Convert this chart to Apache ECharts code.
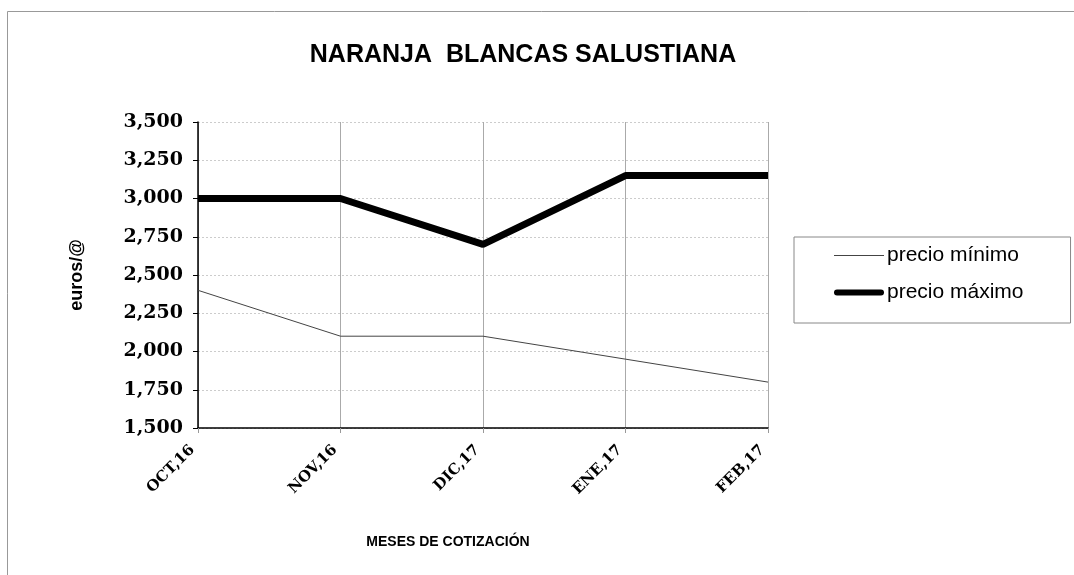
<!DOCTYPE html>
<html>
<head>
<meta charset="utf-8">
<script src="https://cdn.jsdelivr.net/npm/echarts@6/dist/echarts.min.js"></script>
<style>
  html, body { margin: 0; padding: 0; background: #fff; }
  #chart { width: 1074px; height: 575px; }
</style>
</head>
<body>
<div id="chart"></div>
<script>
// values
var months = ["OCT,16", "NOV,16", "DIC,17", "ENE,17", "FEB,17"];
var precioMinimo = [2.40, 2.10, 2.10, 1.95, 1.80];
var precioMaximo = [3.00, 3.00, 2.70, 3.15, 3.15];
var seriesNames = ["precio mínimo", "precio máximo"];

var serifBold = { fontFamily: "DejaVu Serif", fontWeight: "bold", color: "#000" };

var myChart = echarts.init(document.getElementById("chart"));

var options = {
  animation: false,
  backgroundColor: "#fff",
  title: [
    {
      text: "NARANJA  BLANCAS SALUSTIANA",
      left: 518,
      top: 38,
      textAlign: "center",
      textStyle: { fontFamily: "Liberation Sans", fontWeight: "bold", fontSize: 25, color: "#000" },
    },
    {
      text: "MESES DE COTIZACIÓN",
      left: 443,
      top: 530,
      textAlign: "center",
      textStyle: { fontFamily: "Liberation Sans", fontWeight: "bold", fontSize: 14, color: "#000" },
    },
  ],
  graphic: [
    {
      type: "rect",
      shape: { x: 7.5, y: 11.5, width: 1100, height: 600 },
      style: { fill: "none", stroke: "#999", lineWidth: 1 },
      silent: true,
    },
  ],
  legend: {
    left: 794,
    top: 237,
    orient: "vertical",
    padding: [8, 47, 20, 40],
    itemGap: 16,
    itemWidth: 50,
    itemHeight: 21,
    borderColor: "#888",
    borderWidth: 1,
    data: [
      { name: seriesNames[0], icon: "path://M0,0H50V1H0Z", itemStyle: { color: "#444", borderWidth: 0 } },
      { name: seriesNames[1], icon: "path://M3,0H47A3,3 0 0 1 47,6H3A3,3 0 0 1 3,0Z", itemStyle: { color: "#000", borderWidth: 0 } },
    ],
    textStyle: { fontFamily: "Liberation Sans", fontSize: 21, color: "#000", padding: [0, 0, 0, -2] },
  },
  grid: { left: 198, right: 306, top: 122, bottom: 147 },
  xAxis: {
    type: "category",
    data: months,
    boundaryGap: false,
    axisLine: { lineStyle: { color: "#000", width: 1.5 } },
    axisTick: { show: true, length: 5, lineStyle: { color: "#999" } },
    axisLabel: Object.assign({ rotate: 45, fontSize: 15, margin: 14, padding: [0, 8, 0, 0] }, serifBold),
    splitLine: { show: true, lineStyle: { color: "#aaa", width: 1 } },
  },
  yAxis: {
    type: "value",
    min: 1.5,
    max: 3.5,
    interval: 0.25,
    name: "euros/@",
    nameLocation: "middle",
    nameGap: 112,
    nameTextStyle: { fontFamily: "Liberation Sans", fontWeight: "bold", fontSize: 18, color: "#000" },
    axisLine: { show: true, lineStyle: { color: "#000", width: 1.5 } },
    axisTick: { show: true, length: 5, lineStyle: { color: "#000" } },
    axisLabel: Object.assign({
      fontSize: 19,
      margin: 15,
      formatter: function (v) { return v.toFixed(3).replace(".", ","); },
    }, serifBold),
    splitLine: { show: true, lineStyle: { color: "#ccc", type: [2, 2], width: 1 } },
  },
  series: [
    {
      name: seriesNames[0],
      type: "line",
      data: precioMinimo,
      symbol: "none",
      itemStyle: { color: "#444" },
      lineStyle: { color: "#444", width: 1 },
    },
    {
      name: seriesNames[1],
      type: "line",
      data: precioMaximo,
      symbol: "none",
      itemStyle: { color: "#000" },
      lineStyle: { color: "#000", width: 7 },
    },
  ],
};

myChart.setOption(options);
</script>
</body>
</html>
